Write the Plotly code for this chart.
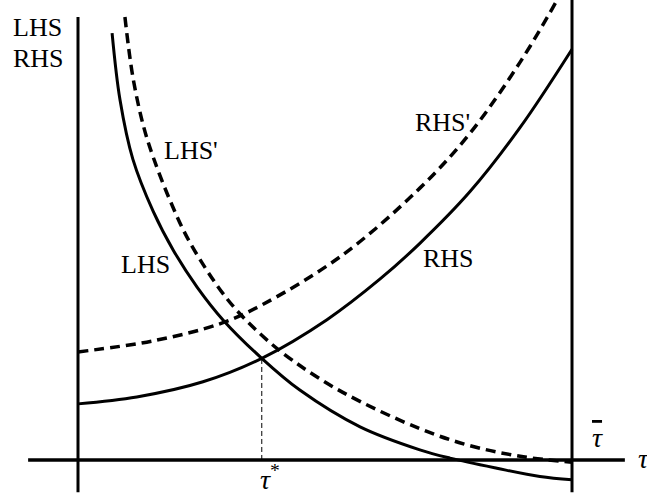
import plotly.graph_objects as go

# Upper bound of the policy variable and the equilibrium value
TAU_BAR = 10.0
TAU_STAR = 3.72

# Rising curves: RHS (solid) and shifted RHS' (dashed)
rhs_tau = [0, 1.19, 2.53, 3.72, 5.04, 6.11, 6.92, 7.94, 8.95, 10.0]
rhs_val = [1.22, 1.37, 1.70, 2.21, 3.05, 3.93, 4.71, 5.84, 7.23, 8.93]
rhs2_tau = [0, 1.52, 2.87, 3.72, 5.36, 6.92, 7.94, 8.95, 9.70, 10.0]
rhs2_val = [2.35, 2.59, 2.96, 3.37, 4.46, 5.91, 7.11, 8.65, 10.0, 10.59]

# Falling curves: LHS (solid) and shifted LHS' (dashed)
lhs_tau = [0.69, 0.85, 1.11, 1.52, 1.94, 2.41, 2.94, 3.72, 4.49, 5.71, 6.92, 7.53, 8.48, 9.35, 10.0]
lhs_val = [9.28, 7.83, 6.54, 5.41, 4.54, 3.76, 3.04, 2.21, 1.52, 0.72, 0.22, 0.04, -0.18, -0.36, -0.43]
lhs2_tau = [0.95, 1.11, 1.32, 1.52, 1.86, 2.27, 3.02, 3.68, 4.35, 5.36, 6.92, 7.94, 8.95, 10.0]
lhs2_val = [9.63, 8.33, 7.28, 6.59, 5.65, 4.72, 3.50, 2.75, 2.16, 1.47, 0.68, 0.31, 0.08, -0.05]

# Axis frame extents (in data units)
h_axis_x = [-1.01, 11.07]
v_axis_y = [-0.70, 9.63]
bar_line_y = [-0.70, 10.5]

X_RANGE = [-1.579, 11.518]
Y_RANGE = [-0.783, 10.0]

FONT = "Liberation Serif, Times New Roman, Times, serif"
BLACK = "#000000"

fig = go.Figure()

def add_line(x, y, width=3, dash="solid", shape="linear"):
    fig.add_trace(go.Scatter(
        x=x, y=y, mode="lines",
        line=dict(color=BLACK, width=width, dash=dash, shape=shape),
        hoverinfo="skip", showlegend=False,
    ))

# Axes: horizontal tau axis, vertical value axis, and the tau-bar bound
add_line(h_axis_x, [0, 0], width=3.5)
add_line([0, 0], v_axis_y, width=3)
add_line([TAU_BAR, TAU_BAR], bar_line_y, width=3)

# Equilibrium drop line
add_line([TAU_STAR, TAU_STAR], [0, rhs_val[3]], width=1, dash="5px,3px")

# Curves
add_line(rhs_tau, rhs_val, width=3, shape="spline")
add_line(lhs_tau, lhs_val, width=3, shape="spline")
add_line(rhs2_tau, rhs2_val, width=3.5, dash="10px,6px", shape="spline")
add_line(lhs2_tau, lhs2_val, width=3.5, dash="10px,6px", shape="spline")

def label(text, x, y, xshift=0, yshift=0, size=26):
    fig.add_annotation(
        x=x, y=y, text=text, showarrow=False,
        xanchor="center", yanchor="middle",
        xshift=xshift, yshift=yshift,
        font=dict(family=FONT, size=size, color=BLACK),
    )

label("LHS", -0.82, 9.40)
label("RHS", -0.80, 8.73)
label("LHS'", 2.29, 6.73)
label("LHS", 1.36, 4.26)
label("RHS'", 7.38, 7.34)
label("RHS", 7.49, 4.37)
label("<i>τ</i><sup>*</sup>", TAU_STAR, -0.38, xshift=8, size=28)
label("<i>τ</i>", 11.45, 0.04, size=28)
label("<span style='text-decoration:overline'><i>τ</i></span>", 10.51, 0.48, size=28)

fig.update_layout(
    width=647, height=496,
    margin=dict(l=0, r=0, t=0, b=0),
    paper_bgcolor="white", plot_bgcolor="white",
    showlegend=False,
    font=dict(family=FONT, color=BLACK),
    xaxis=dict(range=X_RANGE, visible=False, fixedrange=True),
    yaxis=dict(range=Y_RANGE, visible=False, fixedrange=True),
)

fig.write_html("out.html")
